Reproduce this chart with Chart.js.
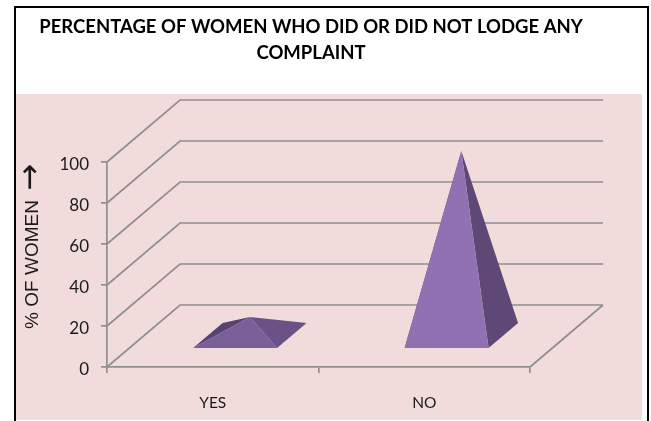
<!DOCTYPE html>
<html>
<head>
<meta charset="utf-8">
<style>html,body{margin:0;padding:0;background:#fff}#w{position:absolute;left:0;top:0;width:651px;height:421px}</style>
<script src="https://cdn.jsdelivr.net/npm/chart.js@4"></script>
</head>
<body>
<div id="w"><canvas id="c" width="651" height="421"></canvas></div>
<script>
const categories = ["YES", "NO"];
const womenPercent = [9, 90];
const titleLines = ["PERCENTAGE OF WOMEN WHO DID OR DID NOT LODGE ANY", "COMPLAINT"];
const yAxisTitle = "% OF WOMEN";
const yAxisArrow = "\u2192";

const FONT = "Lato, sans-serif";
const TEXT = "#1a1a1a";
const LINE = "#8f8f8f";
const DEPTH_X = 73, DEPTH_Y = 62, WALL_RIGHT = 603;
const BASE_FRONT = 0.306, BASE_BACK = 0.71;

const scene = {
  id: "scene",
  beforeDraw(chart) {
    const c = chart.ctx;
    c.save();
    c.fillStyle = "#ffffff"; c.fillRect(0, 0, 651, 421);
    c.fillStyle = "#f2dcdb"; c.fillRect(16, 94, 626, 326);
    c.fillStyle = "#000000";
    c.fillRect(14, 6, 635, 2);
    c.fillRect(14, 6, 2, 415);
    c.fillRect(647, 6, 2, 415);
    c.restore();
  },
  beforeDatasetsDraw(chart) {
    const c = chart.ctx, y = chart.scales.y, x = chart.scales.x;
    c.save();
    c.strokeStyle = LINE; c.lineWidth = 1.7;
    y.ticks.forEach(t => {
      const p = y.getPixelForValue(t.value);
      c.beginPath();
      c.moveTo(x.left, p);
      c.lineTo(x.left + DEPTH_X, p - DEPTH_Y);
      c.lineTo(WALL_RIGHT, p - DEPTH_Y);
      c.stroke();
    });
    const b = y.getPixelForValue(0);
    c.beginPath();
    c.moveTo(x.right, b);
    c.lineTo(x.right + DEPTH_X, b - DEPTH_Y);
    c.stroke();
    c.restore();
    c.save();
    c.translate(32, 177);
    c.rotate(-Math.PI / 2);
    c.fillStyle = TEXT;
    c.font = "32px 'DejaVu Sans', sans-serif";
    c.textAlign = "center";
    c.textBaseline = "middle";
    c.fillText(yAxisArrow, 0, 0);
    c.restore();
  },
  afterDatasetsDraw(chart) {
    const c = chart.ctx, y = chart.scales.y;
    const y0 = y.getPixelForValue(0);
    const poly = (pts, col) => {
      c.fillStyle = col; c.beginPath();
      pts.forEach((p, i) => i ? c.lineTo(p[0], p[1]) : c.moveTo(p[0], p[1]));
      c.closePath(); c.fill();
    };
    const shades = [["#7b5f99", "#6a5186", "#574270"], ["#9171b2", "#5e4876", "#5e4876"]];
    chart.getDatasetMeta(0).data.forEach((bar, i) => {
      const hw = bar.width / 2, cx = bar.x;
      const fx = DEPTH_X * BASE_FRONT, fy = DEPTH_Y * BASE_FRONT;
      const bx = DEPTH_X * BASE_BACK, by = DEPTH_Y * BASE_BACK;
      const mid = (BASE_FRONT + BASE_BACK) / 2;
      const apex = [cx + DEPTH_X * mid, bar.y - DEPTH_Y * mid];
      const fl = [cx - hw + fx, y0 - fy], fr = [cx + hw + fx, y0 - fy];
      const bl = [cx - hw + bx, y0 - by], br = [cx + hw + bx, y0 - by];
      c.save();
      poly([fl, bl, apex], shades[i][2]);
      poly([fr, br, apex], shades[i][1]);
      poly([fl, fr, apex], shades[i][0]);
      c.restore();
    });
  }
};

new Chart(document.getElementById("c"), {
  type: "bar",
  data: {
    labels: categories,
    datasets: [{
      label: "% of women",
      data: womenPercent,
      backgroundColor: "rgba(0,0,0,0)",
      borderWidth: 0,
      categoryPercentage: 1,
      barPercentage: 0.397
    }]
  },
  plugins: [scene],
  options: {
    responsive: false,
    animation: false,
    layout: { padding: { left: 0, right: 29, top: 0, bottom: 0 } },
    plugins: {
      legend: { display: false },
      tooltip: { enabled: false },
      title: {
        display: true,
        text: titleLines,
        color: "#000000",
        font: { family: FONT, size: 18.5, weight: "bold", lineHeight: 1.4 },
        padding: { top: 14, bottom: 96.2 }
      }
    },
    scales: {
      x: {
        type: "category",
        offset: true,
        grid: { display: true, drawOnChartArea: false, color: LINE, lineWidth: 1.7, tickLength: 6, offset: true },
        border: { color: LINE, width: 1.7 },
        ticks: { color: TEXT, font: { family: FONT, size: 15.5 }, padding: 21, maxRotation: 0 },
        afterFit(s) { s.height = 54; }
      },
      y: {
        position: "left",
        min: 0, max: 100,
        grid: { display: true, drawOnChartArea: false, color: LINE, lineWidth: 1.7, tickLength: 6 },
        border: { color: LINE, width: 1.7 },
        ticks: { stepSize: 20, color: TEXT, font: { family: FONT, size: 17 }, padding: 12, labelOffset: 3 },
        title: { display: true, text: yAxisTitle, align: "center", color: TEXT, font: { family: "'Liberation Sans', sans-serif", size: 19 }, padding: { top: 21, bottom: 0 } },
        afterFit(s) { s.width = 107; }
      },
      yBack: {
        position: "right",
        min: 0, max: 100,
        grid: { display: false },
        border: { display: false },
        ticks: { display: false },
        afterFit(s) { s.width = 92; }
      }
    }
  }
});
</script>
</body>
</html>
